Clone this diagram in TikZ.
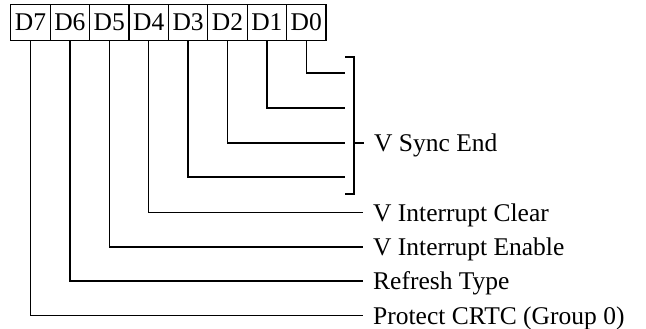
\documentclass[tikz,border=0pt]{standalone}
\usepackage{fontspec}
\setmainfont{Liberation Serif}
\usetikzlibrary{positioning}
\tikzset{
  regbit/.style={
    rectangle, draw=black, line width=1.1pt,
    minimum width=39.4pt, minimum height=36pt, inner sep=0pt, outer sep=0pt,
    text height=17pt, text depth=0pt, font=\fontsize{25.5}{30}\selectfont
  },
  regwire/.style={line width=1.4pt},
  reglabel/.style={
    anchor=west, inner xsep=10pt, inner ysep=0pt,
    text height=17pt, text depth=0pt, font=\fontsize{25.5}{30}\selectfont
  }
}
\begin{document}
\begin{tikzpicture}[x=1pt,y=-1pt,node distance=0pt]
  \useasboundingbox (0,0) rectangle (646,329);
  % register bits
  \node[regbit] (d7) at (30.5,22.5) {D7};
  \node[regbit,right=of d7] (d6) {D6};
  \node[regbit,right=of d6] (d5) {D5};
  \node[regbit,right=of d5] (d4) {D4};
  \node[regbit,right=of d4] (d3) {D3};
  \node[regbit,right=of d3] (d2) {D2};
  \node[regbit,right=of d2] (d1) {D1};
  \node[regbit,right=of d1] (d0) {D0};
  % bracket for D3..D0
  \coordinate (s0) at (345,73);
  \coordinate (s1) at (345,108);
  \coordinate (s2) at (345,143);
  \coordinate (s3) at (345,177);
  \coordinate (bt) at (345,57);
  \coordinate (bb) at (345,194);
  \coordinate (bm) at (354,143);
  \node[reglabel] (sync) at (364,143) {V Sync End};
  \node[reglabel] (intclr) at (363,212.5) {V Interrupt Clear};
  \node[reglabel] (inten) at (363,247) {V Interrupt Enable};
  \node[reglabel] (refresh) at (363,281) {Refresh Type};
  \node[reglabel] (protect) at (363,315.5) {Protect CRTC (Group 0)};
  \draw[regwire] (d0.south) |- (s0);
  \draw[regwire] (d1.south) |- (s1);
  \draw[regwire] (d2.south) |- (s2);
  \draw[regwire] (d3.south) |- (s3);
  \draw[regwire] (bt) -| (bm) |- (bb);
  \draw[regwire] (bm) -- (sync.west);
  \draw[regwire] (d4.south) |- (intclr.west);
  \draw[regwire] (d5.south) |- (inten.west);
  \draw[regwire] (d6.south) |- (refresh.west);
  \draw[regwire] (d7.south) |- (protect.west);
\end{tikzpicture}
\end{document}
